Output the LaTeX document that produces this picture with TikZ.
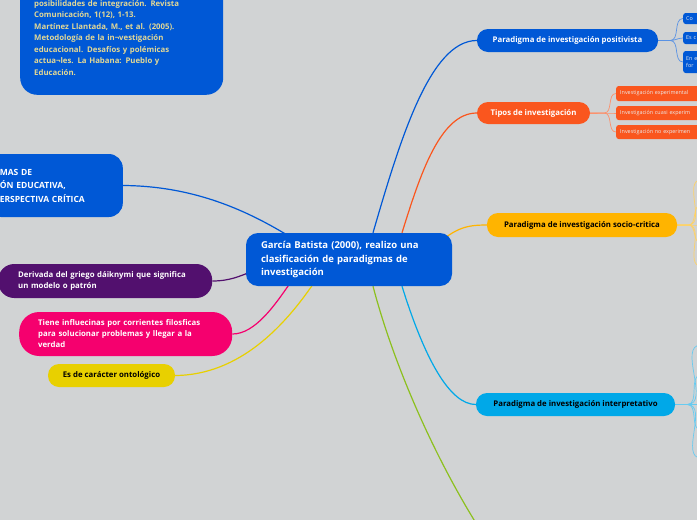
\documentclass[tikz,border=0pt]{standalone}
\usepackage{fontspec}
\setmainfont{Open Sans}
\usepackage{xcolor}
\usepackage{tikz}
\usetikzlibrary{calc,backgrounds}
\definecolor{bgcol}{RGB}{209,211,212}
\definecolor{deepblue}{RGB}{0,88,214}
\definecolor{plum}{RGB}{82,16,110}
\definecolor{hotpink}{RGB}{245,0,110}
\definecolor{lemon}{RGB}{232,208,0}
\definecolor{tomato}{RGB}{250,86,30}
\definecolor{amber}{RGB}{255,180,0}
\definecolor{sky}{RGB}{0,168,232}
\definecolor{leaf}{RGB}{140,192,30}
\definecolor{khaki}{RGB}{226,216,150}

\begin{document}
\begin{tikzpicture}[
    x=1pt, y=-1pt,
    topic/.style={rectangle, rounded corners=11pt, inner sep=0pt, minimum height=23pt, font=\fontsize{7.8}{11}\selectfont\bfseries},
    leftbox/.style={rectangle, anchor=west, align=left, text=white, font=\fontsize{7.8}{11}\selectfont\bfseries},
    subtopic/.style={rectangle, anchor=west, rounded corners=2.5pt, inner ysep=0pt, inner xsep=4pt, text width=110pt, align=left, text=white!92!black, font=\fontsize{5.4}{6.5}\selectfont},
    link/.style={line width=1.2pt},
    twig/.style={line width=0.7pt},
]
\useasboundingbox (0,0) rectangle (697,520);

% central topic
\node[rectangle, rounded corners=12pt, fill=deepblue, text=white, text width=176pt, align=left, inner xsep=15pt, minimum height=53pt, font=\fontsize{9.5}{13.5}\selectfont\bfseries] (ctr) at (349,259.5) {García Batista (2000), realizo una\\clasificación de paradigmas de\\investigación};

% left side
\node[rectangle, anchor=south west, rounded corners=17pt, fill=deepblue, text=khaki, text width=175pt, align=left, inner xsep=14pt, inner ysep=19.5pt, font=\fontsize{7.8}{11.5}\selectfont\bfseries] (refs) at (20,95) {posibilidades de integración. Revista\\Comunicación, 1(12), 1-13.\\Martínez Llantada, M., et al. (2005).\\Metodología de la in¬vestigación\\educacional. Desafíos y polémicas\\actua¬les. La Habana: Pueblo y\\Educación.};
\node[rectangle, anchor=east, rounded corners=14pt, fill=deepblue, text=white, text width=110pt, align=left, inner xsep=13pt, minimum height=63pt, font=\fontsize{8.5}{13.5}\selectfont\bfseries] (title) at (123,185.5) {MAS DE\\ÓN EDUCATIVA,\\ERSPECTIVA CRÍTICA};
\node[leftbox, fill=plum, rounded corners=16pt, text width=174pt, inner xsep=20pt, minimum height=34pt] (griego) at (-2,281) {Derivada del griego dáiknymi que significa\\un modelo o patrón};
\node[leftbox, fill=hotpink, rounded corners=20pt, text width=175pt, inner xsep=19pt, minimum height=44pt] (filos) at (19,334) {Tiene influecinas por corrientes filosficas\\para solucionar problemas y llegar a la\\verdad};
\node[topic, fill=lemon, minimum width=127pt] (onto) at (111.5,375.5) {Es de carácter ontológico};

% right side
\node[topic, fill=deepblue, text=white, minimum width=181pt] (posit) at (567.5,40.5) {Paradigma de investigación positivista};
\node[topic, fill=tomato, text=white, minimum width=113pt, minimum height=22pt] (tipos) at (533.5,113) {Tipos de investigación};
\node[topic, fill=amber, minimum width=190pt, minimum height=24pt] (socio) at (582,225) {Paradigma de investigación socio-critica};
\node[topic, fill=sky, minimum width=199pt] (interp) at (575.5,404.5) {Paradigma de investigación interpretativo};

\node[subtopic, fill=deepblue, inner xsep=3pt, minimum height=11pt] (pc1) at (683,18.5) {Co};
\node[subtopic, fill=deepblue, inner xsep=3pt, minimum height=12pt] (pc2) at (683,38) {Es c};
\node[subtopic, fill=deepblue, inner xsep=3pt, minimum height=22pt] (pc3) at (683,62) {En e\\for};

\node[subtopic, fill=tomato, minimum height=15pt] (tc1) at (616,93.5) {Investigación experimental};
\node[subtopic, fill=tomato, minimum height=14pt] (tc2) at (616,113) {Investigación cuasi experim};
\node[subtopic, fill=tomato, minimum height=14pt] (tc3) at (616,132) {Investigación no experimen};

\coordinate (sc1) at (701,180);
\coordinate (sc2) at (701,205);
\coordinate (sc3) at (701,225);
\coordinate (sc4) at (701,243);
\coordinate (sc5) at (701,266);
\coordinate (ic1) at (701,345);
\coordinate (ic2) at (701,375);
\coordinate (ic3) at (701,404.5);
\coordinate (ic4) at (701,430);
\coordinate (ic5) at (701,458);
\coordinate (gend) at (490,545);

\begin{scope}[on background layer]
\fill[bgcol] (0,0) rectangle (697,520);
% branches
\draw[link, deepblue] ($(ctr.north)+(24,0)$) .. controls (400,140) and (430,40.5) .. (posit.west);
\draw[link, tomato] ($(ctr.north)+(53,0)$) .. controls (420,175) and (440,113) .. (tipos.west);
\draw[link, amber] ($(ctr.east)+(-22,-9.5)$) .. controls (455,228) and (465,225) .. (socio.west);
\draw[link, sky] ($(ctr.south)+(53,0)$) .. controls (425,360) and (450,404.5) .. (interp.west);
\draw[link, leaf] ($(ctr.south)+(24,0)$) .. controls (395,370) and (440,470) .. (gend);
\draw[link, deepblue] (title.east) .. controls (200,186) and (255,215) .. ($(ctr.north)+(-54,7)$);
\draw[link, plum] (griego.east) .. controls (230,281) and (240,276) .. ($(ctr.west)+(6,12)$);
\draw[link, hotpink] (filos.east) .. controls (255,334) and (275,305) .. ($(ctr.south)+(-59,-3)$);
\draw[link, lemon] (onto.east) .. controls (240,375) and (285,325) .. ($(ctr.south)+(-36,-2)$);
% sub branches
\foreach \c in {pc1,pc2,pc3}
  \draw[twig, deepblue!65!white] (posit.east) -- ++(12,0) to[out=0,in=180] (\c.west);
\foreach \c in {tc1,tc2,tc3}
  \draw[twig, tomato!65!white] (tipos.east) -- ++(14,0) to[out=0,in=180] (\c.west);
\foreach \c in {sc1,sc2,sc3,sc4,sc5}
  \draw[twig, amber!60!white] (socio.east) -- ++(11,0) to[out=0,in=180] (\c);
\foreach \c in {ic1,ic2,ic3,ic4,ic5}
  \draw[twig, sky!60!white] (interp.east) -- ++(12,0) to[out=0,in=180] (\c);
\end{scope}
\end{tikzpicture}
\end{document}
